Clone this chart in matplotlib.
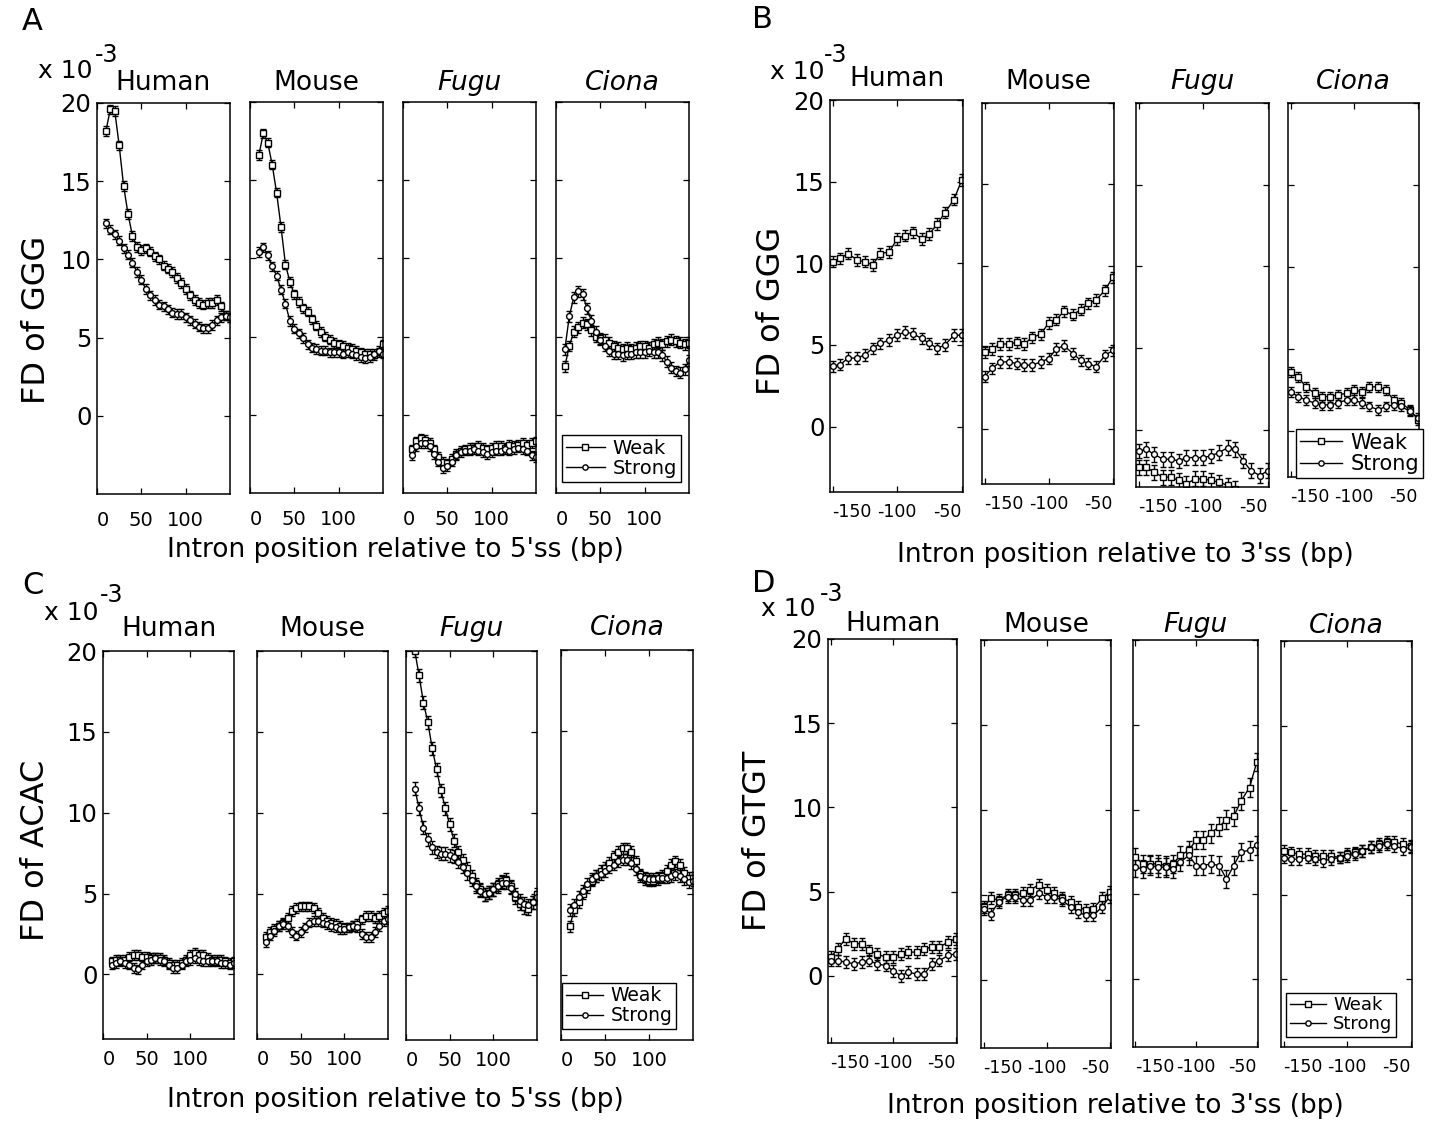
import matplotlib
matplotlib.use('Agg')
import matplotlib.pyplot as plt
from matplotlib.lines import Line2D

W, H = 1445, 1128

species = ['Human', 'Mouse', 'Fugu', 'Ciona']

# intron positions (bp)
pos5 = [10, 15, 20, 25, 30, 35, 40, 45, 50, 55, 60, 65, 70, 75, 80,
        85, 90, 95, 100, 105, 110, 115, 120, 125, 130, 135, 140, 145, 150]
pos3 = [-150, -144, -138, -131, -125, -119, -113, -106, -100,
        -94, -88, -81, -75, -69, -63, -56, -50]

# A: GGG downstream of the 5'ss (x 1e-3)
a_human_weak = [18.2, 19.6, 19.5, 17.3, 14.7, 12.9, 11.5, 10.8, 10.6, 10.7, 10.5, 10.2, 10.0, 9.6, 9.4,
                9.2, 8.8, 8.5, 8.1, 7.7, 7.4, 7.2, 7.1, 7.2, 7.2, 7.4, 7.0, 6.4, 6.3]
a_human_strong = [12.3, 11.9, 11.6, 11.2, 10.7, 10.3, 9.8, 9.2, 8.7, 8.1, 7.7, 7.4, 7.1, 7.0, 6.8,
                  6.6, 6.5, 6.5, 6.3, 6.1, 5.9, 5.7, 5.6, 5.6, 5.8, 6.1, 6.3, 6.4, 6.3]
a_mouse_weak = [16.6, 18.0, 17.4, 16.0, 14.2, 12.0, 9.6, 8.5, 7.7, 7.2, 6.8, 6.6, 6.1, 5.7, 5.3,
                5.0, 4.8, 4.6, 4.5, 4.4, 4.3, 4.2, 4.1, 4.0, 3.9, 3.9, 3.8, 4.0, 4.5]
a_mouse_strong = [10.4, 10.7, 10.2, 9.5, 8.9, 8.0, 7.1, 6.0, 5.5, 5.2, 4.9, 4.5, 4.3, 4.2, 4.1,
                  4.1, 4.0, 4.0, 4.0, 3.9, 4.0, 3.9, 3.8, 3.7, 3.6, 3.7, 3.9, 4.1, 3.9]
a_fugu_weak = [-2.2, -1.7, -1.5, -1.6, -1.8, -2.2, -2.7, -3.0, -3.1, -2.8, -2.5, -2.3, -2.2, -2.1, -2.1,
               -2.0, -2.1, -2.2, -2.1, -2.0, -2.0, -2.1, -1.9, -2.0, -1.9, -1.8, -1.9, -1.8, -1.7]
a_fugu_strong = [-2.6, -2.0, -1.8, -1.8, -2.0, -2.5, -3.0, -3.4, -3.3, -3.0, -2.6, -2.4, -2.3, -2.3, -2.2,
                 -2.3, -2.4, -2.5, -2.4, -2.3, -2.3, -2.2, -2.3, -2.2, -2.1, -2.2, -2.3, -2.6, -2.7]
a_ciona_weak = [3.1, 4.4, 5.3, 5.6, 5.9, 5.8, 5.4, 5.0, 4.9, 4.8, 4.6, 4.4, 4.3, 4.2, 4.3,
                4.2, 4.3, 4.4, 4.4, 4.3, 4.5, 4.6, 4.5, 4.7, 4.8, 4.7, 4.6, 4.5, 4.6]
a_ciona_strong = [4.2, 6.3, 7.5, 7.9, 7.7, 6.8, 6.0, 5.3, 4.8, 4.4, 4.1, 3.9, 3.9, 3.8, 3.9,
                  3.9, 4.0, 4.0, 4.0, 4.1, 4.0, 4.0, 3.8, 3.4, 3.0, 2.8, 2.7, 2.9, 3.5]

# B: GGG upstream of the 3'ss
b_human_weak = [10.1, 10.3, 10.6, 10.2, 10.1, 9.9, 10.6, 10.7, 11.5, 11.7, 11.9, 11.5, 11.8, 12.4, 13.1, 13.9, 15.1]
b_human_strong = [3.7, 3.8, 4.2, 4.2, 4.4, 4.8, 5.1, 5.3, 5.6, 5.8, 5.7, 5.4, 5.1, 4.8, 5.0, 5.6, 5.6]
b_mouse_weak = [4.7, 4.9, 5.2, 5.2, 5.3, 5.2, 5.6, 5.8, 6.5, 6.7, 7.2, 7.0, 7.3, 7.7, 7.9, 8.5, 9.3]
b_mouse_strong = [3.2, 3.7, 4.1, 4.1, 4.0, 3.9, 3.9, 4.1, 4.3, 4.9, 5.1, 4.6, 4.2, 4.0, 3.8, 4.5, 4.8]
b_fugu_weak = [-2.3, -2.3, -2.6, -2.9, -2.9, -3.1, -3.3, -3.0, -3.0, -3.1, -3.2, -3.4, -3.6]
b_fugu_strong = [-1.3, -1.2, -1.5, -1.8, -1.8, -1.9, -1.7, -1.7, -1.7, -1.6, -1.4, -1.1, -1.2, -1.9, -2.5, -2.8, -2.5]
b_ciona_weak = [3.6, 3.3, 2.7, 2.3, 2.1, 2.1, 2.2, 2.3, 2.5, 2.4, 2.7, 2.7, 2.5, 1.9, 1.7, 1.3, 0.7]
b_ciona_strong = [2.4, 2.1, 1.9, 1.7, 1.6, 1.6, 1.7, 1.9, 1.9, 1.7, 1.5, 1.3, 1.5, 1.6, 1.5, 1.2, 0.8]

# C: ACAC downstream of the 5'ss
c_human_weak = [0.8, 0.9, 0.9, 0.9, 1.1, 1.2, 1.2, 1.1, 1.1, 1.0, 1.0, 1.0, 0.9, 0.7, 0.6,
                0.6, 0.7, 0.9, 1.2, 1.3, 1.2, 1.2, 1.0, 0.9, 0.9, 0.9, 0.8, 0.7, 0.8]
c_human_strong = [0.6, 0.7, 0.8, 0.7, 0.6, 0.4, 0.3, 0.6, 0.8, 0.9, 1.0, 0.9, 0.8, 0.6, 0.4,
                  0.4, 0.6, 0.8, 0.9, 1.0, 0.9, 0.8, 0.8, 0.8, 0.8, 0.7, 0.7, 0.6, 0.7]
c_mouse_weak = [2.3, 2.6, 2.8, 3.0, 3.2, 3.5, 3.9, 4.1, 4.2, 4.2, 4.2, 4.1, 3.8, 3.5, 3.3,
                3.2, 3.1, 3.0, 2.9, 2.9, 3.0, 3.1, 3.4, 3.6, 3.6, 3.5, 3.6, 3.8, 3.9]
c_mouse_strong = [2.0, 2.4, 2.7, 3.0, 3.1, 3.0, 2.6, 2.4, 2.6, 2.9, 3.2, 3.3, 3.3, 3.2, 3.1,
                  3.0, 2.9, 2.8, 2.8, 2.9, 3.0, 2.9, 2.5, 2.3, 2.3, 2.6, 3.0, 3.3, 3.4]
c_fugu_weak = [20.0, 18.5, 16.8, 15.6, 14.0, 12.7, 11.4, 10.3, 9.3, 8.3, 7.6, 7.1, 6.6, 6.1, 5.6,
               5.3, 5.0, 5.1, 5.3, 5.6, 5.8, 5.9, 5.5, 4.8, 4.4, 4.2, 4.1, 4.5, 5.0]
c_fugu_strong = [11.5, 10.3, 9.1, 8.4, 7.9, 7.6, 7.5, 7.5, 7.4, 7.3, 7.0, 6.7, 6.3, 5.9, 5.5,
                 5.2, 5.0, 5.1, 5.3, 5.5, 5.7, 5.7, 5.4, 5.0, 4.6, 4.4, 4.3, 4.5, 4.8]
c_ciona_weak = [3.0, 4.0, 4.5, 5.0, 5.4, 5.8, 6.1, 6.4, 6.6, 6.9, 7.3, 7.6, 7.8, 7.8, 7.6,
                7.0, 6.2, 5.9, 5.8, 5.8, 5.9, 6.1, 6.4, 6.8, 7.0, 6.8, 6.3, 6.0, 6.0]
c_ciona_strong = [4.0, 4.3, 4.8, 5.2, 5.6, 5.9, 6.1, 6.2, 6.4, 6.6, 6.8, 7.0, 7.1, 7.1, 6.9,
                  6.5, 6.1, 6.0, 5.9, 5.9, 6.0, 6.0, 6.0, 6.1, 6.2, 6.1, 5.9, 5.7, 5.8]

# D: GTGT upstream of the 3'ss
d_human_weak = [1.1, 1.6, 2.2, 1.9, 1.9, 1.5, 1.3, 1.1, 1.1, 1.3, 1.4, 1.4, 1.6, 1.7, 1.7, 2.0, 2.2]
d_human_strong = [0.9, 0.9, 0.8, 0.7, 0.8, 0.9, 0.7, 0.6, 0.3, 0.0, 0.2, 0.1, 0.1, 0.7, 0.9, 1.2, 1.3]
d_mouse_weak = [4.3, 4.8, 4.7, 5.0, 5.0, 5.1, 5.3, 5.6, 5.3, 5.1, 4.8, 4.6, 4.3, 4.1, 4.2, 4.8, 5.2]
d_mouse_strong = [4.2, 3.9, 4.6, 4.9, 4.9, 4.7, 4.7, 5.1, 4.9, 4.9, 4.7, 4.3, 4.0, 3.8, 3.8, 4.3, 4.9]
d_fugu_weak = [7.2, 6.8, 6.8, 6.8, 6.7, 6.8, 7.3, 7.6, 8.2, 8.2, 8.6, 9.0, 9.4, 9.6, 10.5, 11.3, 12.8]
d_fugu_strong = [6.6, 6.5, 6.7, 6.6, 6.6, 6.5, 6.9, 7.3, 6.7, 6.7, 6.8, 6.7, 5.9, 6.7, 7.5, 7.6, 7.9]
d_ciona_weak = [7.6, 7.5, 7.4, 7.4, 7.3, 7.3, 7.3, 7.2, 7.4, 7.5, 7.6, 7.8, 8.0, 8.1, 8.1, 8.0, 7.9]
d_ciona_strong = [7.2, 7.1, 7.1, 7.2, 7.1, 7.0, 7.1, 7.2, 7.3, 7.4, 7.6, 7.8, 7.9, 8.0, 7.9, 7.7, 7.8]

# standard errors, one per subplot
a_err = [0.3, 0.3, 0.3, 0.35]
b_err = [0.35, 0.35, 0.45, 0.3]
c_err = [0.3, 0.3, 0.4, 0.35]
d_err = [0.35, 0.35, 0.55, 0.35]


fig = plt.figure(figsize=(W / 100, H / 100), dpi=100)


def px_axes(l, t, r, b):
    return fig.add_axes([l / W, 1 - b / H, (r - l) / W, (b - t) / H])


def ftext(x, y, s, **kw):
    fig.text(x / W, 1 - y / H, s, **kw)


def draw(ax, xw, weak, xs, strong, err):
    common = dict(color='k', lw=1.0, ms=4.2, mfc='white', mec='k', mew=1.0,
                  capsize=2.2, elinewidth=1.0, capthick=1.0)
    ax.errorbar(xw, weak, yerr=err, marker='s', **common)
    ax.errorbar(xs, strong, yerr=err, marker='o', **common)


def style(ax, ylo, five, first, xpad, title, tpad):
    ax.set_ylim(ylo, 20)
    ax.set_yticks([0, 5, 10, 15, 20])
    if five:
        ax.set_xlim(0, 150)
        ax.set_xticks([0, 50, 100])
        ax.set_xticklabels(['0', '50', '100'])
        ax.get_xticklabels()[0].set_ha('left')
        ax.tick_params(axis='x', labelsize=14, pad=xpad)
    else:
        ax.set_xlim(-152, -49)
        ax.set_xticks([-150, -100, -50])
        ax.set_xticklabels(['-150', '-100', '-50'])
        labels = ax.get_xticklabels()
        labels[0].set_ha('left')
        labels[-1].set_ha('right')
        ax.tick_params(axis='x', labelsize=12.5, pad=xpad)
    ax.tick_params(direction='in', top=True, right=True, length=4.5, width=0.9)
    ax.tick_params(axis='y', labelsize=17.5, pad=4)
    if not first:
        ax.set_yticklabels([])
    for s in ax.spines.values():
        s.set_linewidth(1.1)
    italic = title in ('Fugu', 'Ciona')
    ax.set_title(title, fontsize=19, pad=tpad, style='italic' if italic else 'normal')


def legend(ax, x0, y1, size):
    handles = [Line2D([], [], color='k', lw=1.0, marker='s', ms=3.8, mfc='white', mec='k'),
               Line2D([], [], color='k', lw=1.0, marker='o', ms=3.8, mfc='white', mec='k')]
    leg = ax.legend(handles, ['Weak', 'Strong'], loc='lower left',
                    bbox_to_anchor=(x0 / W, 1 - y1 / H), bbox_transform=fig.transFigure,
                    fontsize=size, fancybox=False, framealpha=1, edgecolor='k',
                    borderpad=0.2, labelspacing=0.05, handlelength=2.0,
                    handletextpad=0.4, borderaxespad=0)
    leg.get_frame().set_linewidth(1.0)


# panel A
boxes = [(97, 103, 230, 494), (250, 102, 383, 493), (403, 102, 536, 493), (556, 102, 689, 493)]
data = [(a_human_weak, a_human_strong), (a_mouse_weak, a_mouse_strong),
        (a_fugu_weak, a_fugu_strong), (a_ciona_weak, a_ciona_strong)]
for i, (bx, (w, s)) in enumerate(zip(boxes, data)):
    ax = px_axes(*bx)
    draw(ax, pos5, w, pos5, s, a_err[i])
    style(ax, -5, True, i == 0, 12, species[i], 9)
    if i == 3:
        legend(ax, 562, 482, 14)

# panel B
boxes = [(830, 100, 963, 492), (982, 103, 1114, 484), (1136, 103, 1269, 487), (1288, 103, 1419, 477)]
lows = [-4.0, -3.4, -3.5, -2.8]
data = [(b_human_weak, b_human_strong), (b_mouse_weak, b_mouse_strong),
        (b_fugu_weak, b_fugu_strong), (b_ciona_weak, b_ciona_strong)]
for i, (bx, (w, s)) in enumerate(zip(boxes, data)):
    ax = px_axes(*bx)
    draw(ax, pos3[:len(w)], w, pos3[:len(s)], s, b_err[i])
    style(ax, lows[i], False, i == 0, 8, species[i], 10)
    if i == 3:
        legend(ax, 1296, 478, 15)

# panel C
boxes = [(103, 651, 234, 1039), (257, 651, 388, 1039), (406, 651, 537, 1040), (561, 650, 693, 1040)]
data = [(c_human_weak, c_human_strong), (c_mouse_weak, c_mouse_strong),
        (c_fugu_weak, c_fugu_strong), (c_ciona_weak, c_ciona_strong)]
for i, (bx, (w, s)) in enumerate(zip(boxes, data)):
    ax = px_axes(*bx)
    draw(ax, pos5, w, pos5, s, c_err[i])
    style(ax, -4, True, i == 0, 8, species[i], 11)
    if i == 3:
        legend(ax, 562, 1029, 13.5)

# panel D
boxes = [(828, 639, 957, 1043), (981, 640, 1111, 1048), (1133, 640, 1258, 1047), (1281, 641, 1412, 1047)]
data = [(d_human_weak, d_human_strong), (d_mouse_weak, d_mouse_strong),
        (d_fugu_weak, d_fugu_strong), (d_ciona_weak, d_ciona_strong)]
for i, (bx, (w, s)) in enumerate(zip(boxes, data)):
    ax = px_axes(*bx)
    draw(ax, pos3, w, pos3, s, d_err[i])
    style(ax, -4, False, i == 0, 8, species[i], 6)
    if i == 3:
        legend(ax, 1286, 1037, 13)

# panel letters, exponent labels and axis titles
for letter, x, y in [('A', 22, 22), ('B', 752, 20), ('C', 22, 586), ('D', 752, 583)]:
    ftext(x, y, letter, fontsize=22, va='center', ha='left')

for x, y, ex, ey in [(38, 71, 95, 55), (770, 72, 824, 55), (44, 613, 100, 595), (761, 609, 820, 594)]:
    ftext(x, y, 'x 10', fontsize=18, va='center', ha='left')
    ftext(ex, ey, '-3', fontsize=17, va='center', ha='left')

ftext(37, 320, 'FD of GGG', fontsize=23, rotation=90, va='center', ha='center')
ftext(772, 311, 'FD of GGG', fontsize=23, rotation=90, va='center', ha='center')
ftext(36, 850, 'FD of ACAC', fontsize=23, rotation=90, va='center', ha='center')
ftext(757, 841, 'FD of GTGT', fontsize=23, rotation=90, va='center', ha='center')

ftext(395, 550, "Intron position relative to 5'ss (bp)", fontsize=19, va='center', ha='center')
ftext(1125, 555, "Intron position relative to 3'ss (bp)", fontsize=19, va='center', ha='center')
ftext(395, 1100, "Intron position relative to 5'ss (bp)", fontsize=19, va='center', ha='center')
ftext(1115, 1106, "Intron position relative to 3'ss (bp)", fontsize=19, va='center', ha='center')

fig.savefig('out.png', dpi=100)
